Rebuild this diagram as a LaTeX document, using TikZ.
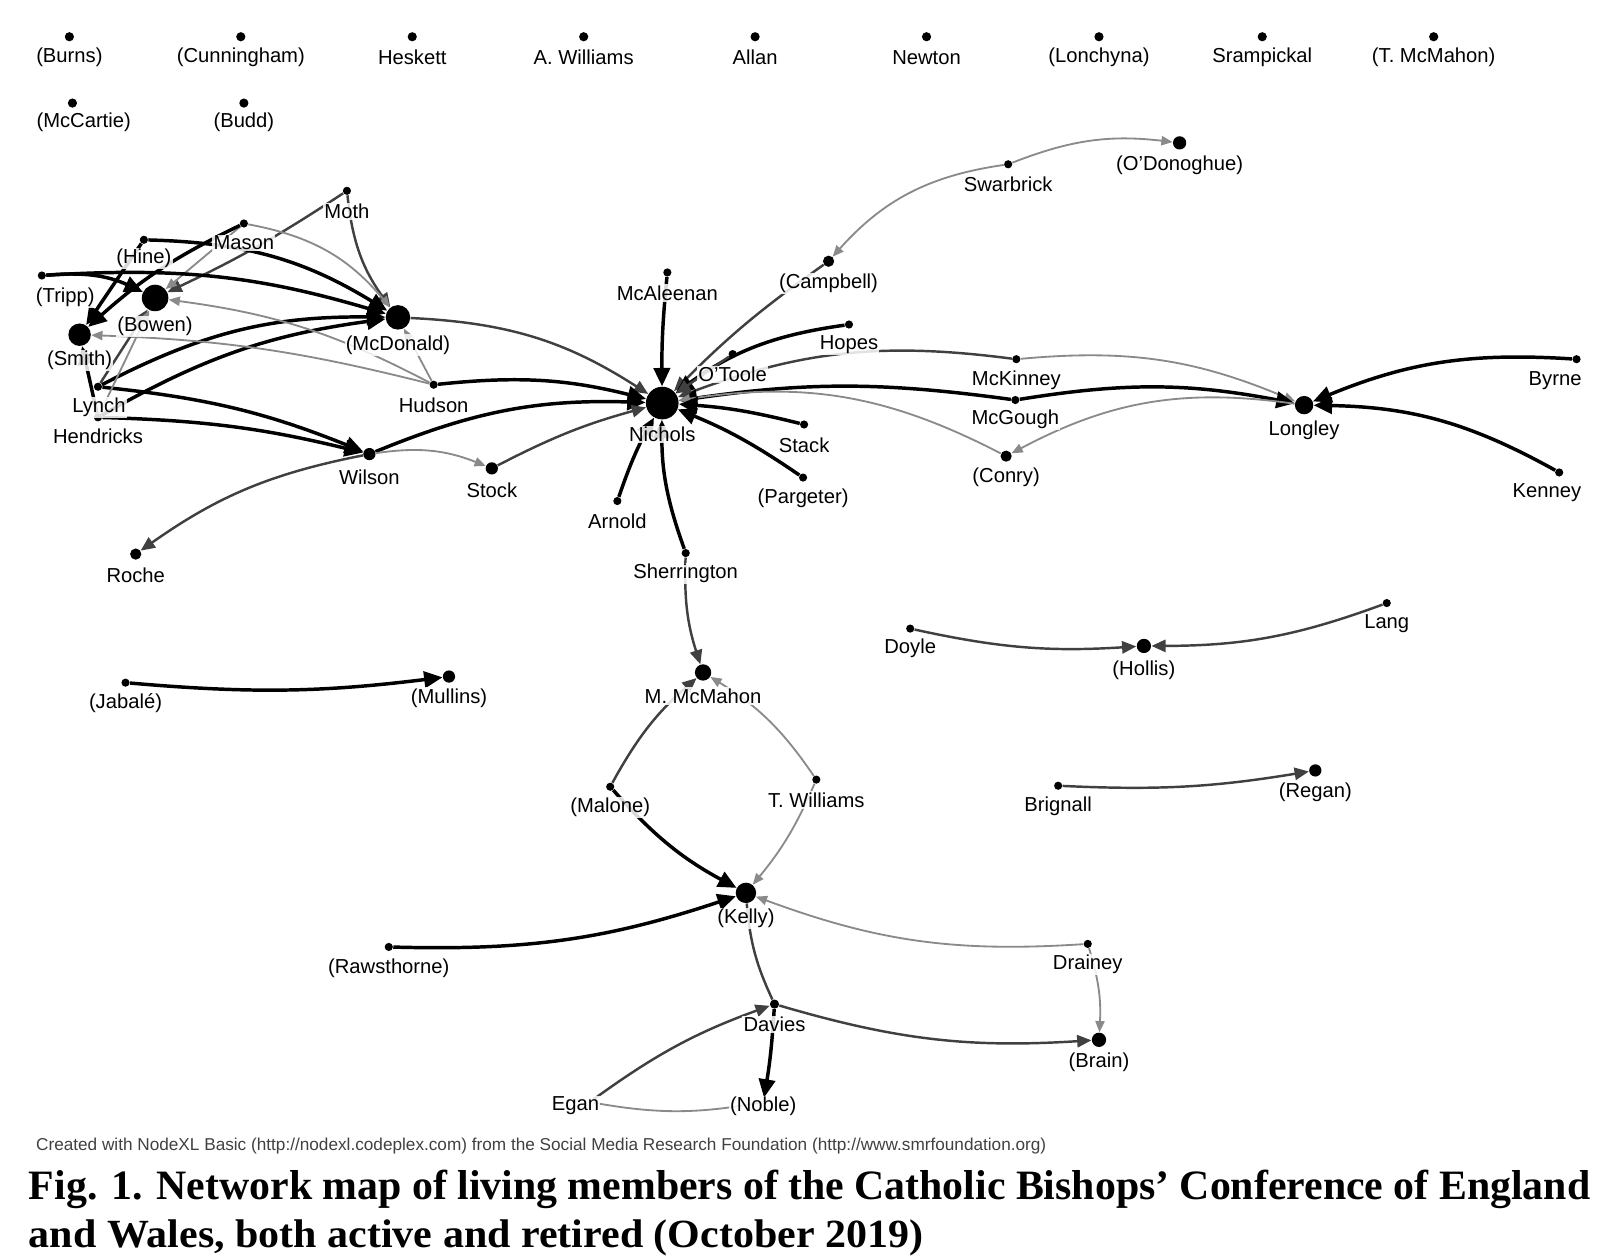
\documentclass[tikz,border=0pt]{standalone}
\usepackage{fontspec}
\setmainfont{Liberation Sans}
\newfontfamily\capfont{Liberation Serif}
\usetikzlibrary{arrows.meta}
\definecolor{dgray}{HTML}{404040}
\definecolor{lgray}{HTML}{8A8A8A}
\begin{document}
\begin{tikzpicture}[x=0.5pt,y=-0.5pt,
  vdot/.style={circle,fill=black,inner sep=0pt,minimum size=#1},
  vdot/.default=4pt,
  hid/.style={circle,inner sep=0pt,minimum size=4pt},
  lab/.style={font=\fontsize{9.9}{11}\selectfont,inner sep=0.6pt,fill=white,fill opacity=0.85,text opacity=1},
  sE/.style={draw=black,line width=1.7pt,-{Triangle[length=9pt,width=8pt]}},
  mE/.style={draw=dgray,line width=1.2pt,-{Triangle[length=7pt,width=6pt]}},
  wE/.style={draw=lgray,line width=0.9pt,-{Triangle[length=5.5pt,width=4.5pt]}},
]
\useasboundingbox (0,0) rectangle (1568,1233);

% ---------- isolates ----------
\node[vdot=4.5pt] (burns) at (68,36) {};
\node[vdot=4.5pt] (cunningham) at (236,36) {};
\node[vdot=4.5pt] (heskett) at (404,36) {};
\node[vdot=4.5pt] (awilliams) at (572,36) {};
\node[vdot=4.5pt] (allan) at (740,36) {};
\node[vdot=4.5pt] (newton) at (908,36) {};
\node[vdot=4.5pt] (lonchyna) at (1077,36) {};
\node[vdot=4.5pt] (srampickal) at (1237,36) {};
\node[vdot=4.5pt] (tmcmahon) at (1405,36) {};
\node[vdot=4.5pt] (mccartie) at (71,101) {};
\node[vdot=4.5pt] (budd) at (239,101) {};

% ---------- network vertices ----------
\node[vdot=6.5pt] (odonoghue) at (1156,140) {};
\node[vdot] (swarbrick) at (988,161) {};
\node[vdot=5.5pt] (campbell) at (812,256) {};
\node[vdot] (mcaleenan) at (654,267) {};
\node[vdot] (moth) at (340,187) {};
\node[vdot] (mason) at (239,219) {};
\node[vdot] (hine) at (141,235) {};
\node[vdot] (tripp) at (41,270) {};
\node[vdot=13pt] (bowen) at (152,292) {};
\node[vdot=12pt] (mcdonald) at (390,311) {};
\node[vdot=11pt] (smith) at (78,328) {};
\node[vdot] (lynch) at (96,379) {};
\node[vdot] (hendricks) at (96,409) {};
\node[vdot] (hudson) at (425,377) {};
\node[vdot=6pt] (wilson) at (362,445) {};
\node[vdot=6pt] (stock) at (482,459) {};
\node[vdot=5.5pt] (roche) at (133,543) {};
\node[vdot=16pt] (nichols) at (649,395) {};
\node[vdot] (hopes) at (832,318) {};
\node[vdot] (otoole) at (718,347) {};
\node[vdot] (stack) at (788,416) {};
\node[vdot] (pargeter) at (787,468) {};
\node[vdot] (arnold) at (605,491) {};
\node[vdot] (sherrington) at (672,542) {};
\node[vdot] (mckinney) at (996,352) {};
\node[vdot] (mcgough) at (995,392) {};
\node[vdot=5.5pt] (conry) at (986,447) {};
\node[vdot=9pt] (longley) at (1278,397) {};
\node[vdot] (byrne) at (1545,352) {};
\node[vdot] (kenney) at (1528,463) {};
\node[vdot] (doyle) at (892,616) {};
\node[vdot=7pt] (hollis) at (1121,633) {};
\node[vdot] (lang) at (1359,591) {};
\node[vdot] (jabale) at (123,669) {};
\node[vdot=6pt] (mullins) at (440,663) {};
\node[vdot=8pt] (mmcmahon) at (689,659) {};
\node[vdot] (malone) at (598,771) {};
\node[vdot] (twilliams) at (800,764) {};
\node[vdot] (brignall) at (1037,770) {};
\node[vdot=6pt] (regan) at (1289,755) {};
\node[vdot=10pt] (kelly) at (731,875) {};
\node[vdot] (rawsthorne) at (381,928) {};
\node[vdot] (drainey) at (1066,925) {};
\node[vdot=4.5pt] (davies) at (759,984) {};
\node[vdot=7pt] (brain) at (1077,1019) {};
\node[hid] (egan) at (578,1080) {};
\node[hid] (noble) at (748,1080) {};

% ---------- edges ----------
\draw[wE] (swarbrick) to[bend left=14] (odonoghue);
\draw[wE] (swarbrick) to[bend right=20] (campbell);
\draw[mE] (campbell) to[bend right=5] (nichols);
\draw[sE] (mcaleenan) to[bend right=3] (nichols);
\draw[sE] (hopes) to[bend right=14] (nichols);
\draw[mE] (otoole) -- (nichols);
\draw[mE] (mckinney) to[bend right=14] (nichols);
\draw[wE] (mckinney) to[bend left=14] (longley);
\draw[sE] (mcgough) to[bend right=8] (nichols);
\draw[sE] (mcgough) to[bend left=10] (longley);
\draw[wE] (conry) to[bend right=18] (nichols);
\draw[wE] (longley) to[bend right=18] (conry);
\draw[sE] (stack) to[bend right=5] (nichols);
\draw[sE] (pargeter) to[bend right=6] (nichols);
\draw[sE] (byrne) to[bend right=13] (longley);
\draw[sE] (kenney) to[bend right=14] (longley);
\draw[sE] (arnold) to[bend left=5] (nichols);
\draw[sE] (sherrington) to[bend left=10] (nichols);
\draw[mE] (sherrington) to[bend right=10] (mmcmahon);

\draw[mE] (mcdonald) to[bend left=15] (nichols);
\draw[sE] (hudson) to[bend left=10] (nichols);
\draw[sE] (wilson) to[bend left=12] (nichols);
\draw[mE] (stock) to[bend left=6] (nichols);
\draw[wE] (wilson) to[bend left=15] (stock);
\draw[mE] (wilson) to[bend right=12] (roche);

\draw[mE] (moth) to[bend right=15] (mcdonald);
\draw[mE] (moth) to[bend left=4] (bowen);
\draw[wE] (mason) to[bend left=20] (mcdonald);
\draw[wE] (mason) -- (bowen);
\draw[sE] (mason) to[bend right=8] (smith);
\draw[sE] (hine) to[bend left=15] (mcdonald);
\draw[sE] (hine) -- (smith);
\draw[sE] (tripp) to[bend left=10] (mcdonald);
\draw[sE] (tripp) to[bend left=15] (bowen);
\draw[sE] (lynch) to[bend left=14] (mcdonald);
\draw[sE] (hendricks) to[bend left=11] (mcdonald);
\draw[sE] (lynch) to[bend left=8] (wilson);
\draw[sE] (hendricks) to[bend left=6] (wilson);
\draw[wE] (hudson) to[bend right=10] (bowen);
\draw[wE] (hudson) to[bend right=6] (smith);
\draw[wE] (hudson) -- (mcdonald);
\draw[mE] (lynch) -- (bowen);
\draw[wE] (hendricks) -- (bowen);
\draw[sE] (hendricks) -- (smith);

\draw[mE] (malone) to[bend left=10] (mmcmahon);
\draw[wE] (twilliams) to[bend right=12] (mmcmahon);
\draw[sE] (malone) to[bend right=10] (kelly);
\draw[wE] (twilliams) to[bend left=8] (kelly);
\draw[sE] (rawsthorne) to[bend right=10] (kelly);
\draw[wE] (drainey) to[bend left=12] (kelly);
\draw[wE] (drainey) to[bend left=10] (brain);
\draw[mE] (davies) to[bend right=10] (brain);
\draw[mE,-] (davies) to[bend left=10] (kelly);
\draw[sE] (davies) to[bend left=3] (noble);
\draw[mE] (egan) to[bend left=8] (davies);
\draw[wE,-] (egan) to[bend right=10] (noble);

\draw[sE] (jabale) to[bend right=6] (mullins);
\draw[mE] (doyle) to[bend right=8] (hollis);
\draw[mE] (lang) to[bend left=10] (hollis);
\draw[mE] (brignall) to[bend right=6] (regan);

% ---------- labels ----------
\node[lab] (burns-l) at (68,56) {(Burns)};
\node[lab] (cunningham-l) at (236,56) {(Cunningham)};
\node[lab] (heskett-l) at (404,56) {Heskett};
\node[lab] (awilliams-l) at (572,56) {A. Williams};
\node[lab] (allan-l) at (740,56) {Allan};
\node[lab] (newton-l) at (908,56) {Newton};
\node[lab] (lonchyna-l) at (1077,56) {(Lonchyna)};
\node[lab] (srampickal-l) at (1237,56) {Srampickal};
\node[lab] (tmcmahon-l) at (1405,56) {(T. McMahon)};
\node[lab] (mccartie-l) at (82,120) {(McCartie)};
\node[lab] (budd-l) at (239,120) {(Budd)};

\node[lab] (odonoghue-l) at (1156,162) {(O’Donoghue)};
\node[lab] (swarbrick-l) at (988,181) {Swarbrick};
\node[lab] (campbell-l) at (812,278) {(Campbell)};
\node[lab] (mcaleenan-l) at (654,287) {McAleenan};
\node[lab] (moth-l) at (340,207) {Moth};
\node[lab] (mason-l) at (239,238) {Mason};
\node[lab] (hine-l) at (141,253) {(Hine)};
\node[lab] (tripp-l) at (64,291) {(Tripp)};
\node[lab] (bowen-l) at (152,320) {(Bowen)};
\node[lab] (mcdonald-l) at (390,338) {(McDonald)};
\node[lab] (smith-l) at (78,353) {(Smith)};
\node[lab] (lynch-l) at (97,399) {Lynch};
\node[lab] (hendricks-l) at (96,428) {Hendricks};
\node[lab] (hudson-l) at (425,397) {Hudson};
\node[lab] (wilson-l) at (362,468) {Wilson};
\node[lab] (stock-l) at (482,480) {Stock};
\node[lab] (roche-l) at (133,564) {Roche};
\node[lab] (nichols-l) at (649,426) {Nichols};
\node[lab] (hopes-l) at (832,338) {Hopes};
\node[lab] (otoole-l) at (718,367) {O’Toole};
\node[lab] (stack-l) at (788,436) {Stack};
\node[lab] (pargeter-l) at (787,488) {(Pargeter)};
\node[lab] (arnold-l) at (605,511) {Arnold};
\node[lab] (sherrington-l) at (672,562) {Sherrington};
\node[lab] (mckinney-l) at (996,373) {McKinney};
\node[lab] (mcgough-l) at (995,411) {McGough};
\node[lab] (conry-l) at (986,468) {(Conry)};
\node[lab] (longley-l) at (1278,422) {Longley};
\node[lab] (byrne-l) at (1524,373) {Byrne};
\node[lab] (kenney-l) at (1516,483) {Kenney};
\node[lab] (doyle-l) at (892,635) {Doyle};
\node[lab] (hollis-l) at (1121,657) {(Hollis)};
\node[lab] (lang-l) at (1359,611) {Lang};
\node[lab] (jabale-l) at (123,689) {(Jabalé)};
\node[lab] (mullins-l) at (440,684) {(Mullins)};
\node[lab] (mmcmahon-l) at (689,682) {M. McMahon};
\node[lab] (malone-l) at (598,791) {(Malone)};
\node[lab] (twilliams-l) at (800,784) {T. Williams};
\node[lab] (brignall-l) at (1037,790) {Brignall};
\node[lab] (regan-l) at (1289,776) {(Regan)};
\node[lab] (kelly-l) at (731,900) {(Kelly)};
\node[lab] (rawsthorne-l) at (381,949) {(Rawsthorne)};
\node[lab] (drainey-l) at (1066,945) {Drainey};
\node[lab] (davies-l) at (759,1004) {Davies};
\node[lab] (brain-l) at (1077,1041) {(Brain)};
\node[lab] (egan-l) at (564,1084) {Egan};
\node[lab] (noble-l) at (748,1084) {(Noble)};

% ---------- footer and caption ----------
\node[anchor=base west,inner sep=0pt,text=dgray] (credit) at (35,1127)
  {\resizebox{495pt}{!}{Created with NodeXL Basic (http://nodexl.codeplex.com) from the Social Media Research Foundation (http://www.smrfoundation.org)}};
\node[anchor=base west,inner sep=0pt] (cap1) at (28,1175)
  {\resizebox{765pt}{!}{\capfont\bfseries\fontsize{19}{22}\selectfont Fig. 1. Network map of living members of the Catholic Bishops’ Conference of England}};
\node[anchor=base west,inner sep=0pt] (cap2) at (28,1223)
  {\scalebox{1.05}[1]{\capfont\bfseries\fontsize{19.6}{22}\selectfont and Wales, both active and retired (October 2019)}};
\end{tikzpicture}
\end{document}
